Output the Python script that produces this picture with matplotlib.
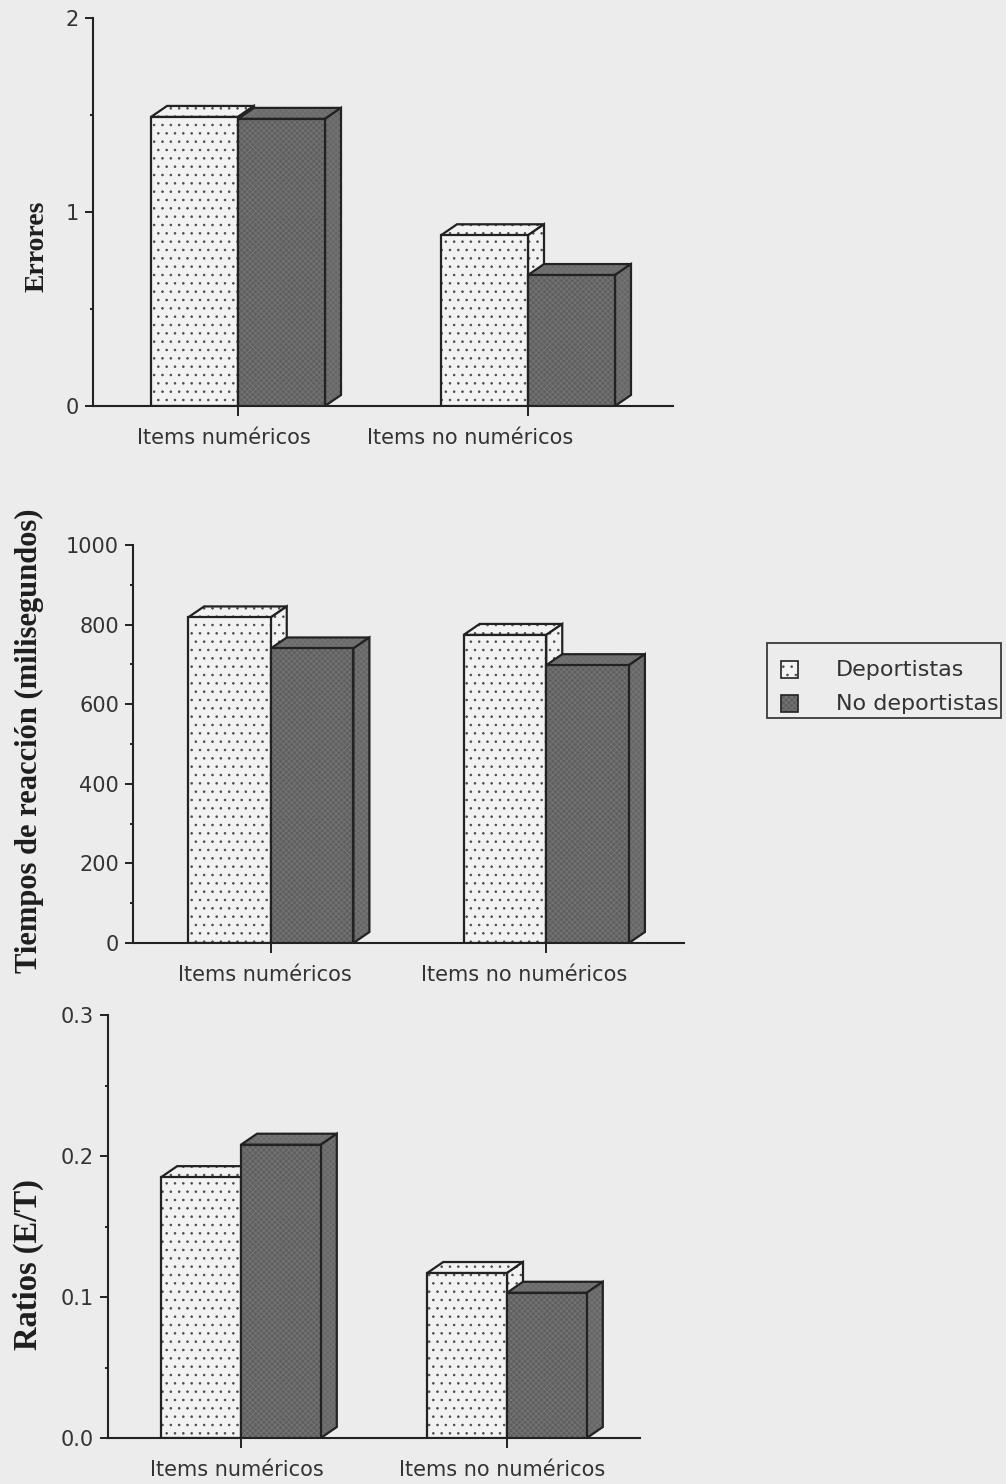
import numpy as np
import matplotlib
matplotlib.use('Agg')
import matplotlib.pyplot as plt
from matplotlib.patches import Polygon, Rectangle
from matplotlib.ticker import MultipleLocator

# data
categories = ['Items numéricos', 'Items no numéricos']
groups = ['Deportistas', 'No deportistas']

errores_dep = [1.49, 0.88]
errores_nodep = [1.48, 0.675]
tiempos_dep = [818, 774]
tiempos_nodep = [740, 698]
ratios_dep = [0.185, 0.117]
ratios_nodep = [0.208, 0.103]

# styling
BG = '#ececec'
EDGE = '#222222'
LIGHT = '#f2f2f2'
DOTS = '#4a4a4a'
DARK_FRONT = '#5f5f5f'
DARK_TOP = '#6a6a6a'
DARK_SIDE = '#666666'
DARK_GRAIN = '#767676'
DEPTH_PX = (16, 11)
W = 0.30
FIG_W, FIG_H = 1006, 1484

plt.rcParams['hatch.linewidth'] = 0.6

fig = plt.figure(figsize=(FIG_W / 100, FIG_H / 100), dpi=100)
fig.patch.set_facecolor(BG)


def fill_args(fc, hatch):
    # hatch colour follows edgecolor; linewidth 0 hides the edge itself
    if hatch == '..':
        return dict(facecolor=fc, edgecolor=DOTS, lw=0, hatch=hatch)
    return dict(facecolor=fc, edgecolor=DARK_GRAIN, lw=0, hatch='xxxxxx')


def face(ax, pts, fc, hatch, z):
    ax.add_patch(Polygon(pts, closed=True, zorder=z, **fill_args(fc, hatch)))
    ax.add_patch(Polygon(pts, closed=True, fill=False, edgecolor=EDGE, lw=1.6,
                         joinstyle='miter', zorder=z + 0.1))


def bar3d(ax, x0, h, fc_front, fc_top, fc_side, hatch, z):
    bb = ax.get_position()
    xl, yl = ax.get_xlim(), ax.get_ylim()
    dx = DEPTH_PX[0] * (xl[1] - xl[0]) / (bb.width * FIG_W)
    dy = DEPTH_PX[1] * (yl[1] - yl[0]) / (bb.height * FIG_H)
    x1 = x0 + W
    top = [(x0, h), (x1, h), (x1 + dx, h + dy), (x0 + dx, h + dy)]
    side = [(x1, 0), (x1, h), (x1 + dx, h + dy), (x1 + dx, dy)]
    face(ax, top, fc_top, hatch, z)
    face(ax, side, fc_side, hatch, z + 0.2)
    ax.bar([x0], [h], W, align='edge', zorder=z + 0.4, **fill_args(fc_front, hatch))
    ax.bar([x0], [h], W, align='edge', fill=False, edgecolor=EDGE, lw=1.6,
           joinstyle='miter', zorder=z + 0.5)


panels = [
    # pixel box (left, bottom, right, top), y range, ticks, tick format, label spots
    dict(px=(93, 406, 673, 18), ylim=2, major=1, minor=0.5, fmt='{:.0f}',
         dep=errores_dep, nodep=errores_nodep, lab=[-0.05, 0.80]),
    dict(px=(133, 943, 684, 545), ylim=1000, major=200, minor=100, fmt='{:.0f}',
         dep=tiempos_dep, nodep=tiempos_nodep, lab=[-0.02, 0.92]),
    dict(px=(108, 1438, 640, 1015), ylim=0.3, major=0.1, minor=0.05, fmt='{:.1f}',
         dep=ratios_dep, nodep=ratios_nodep, lab=[-0.015, 0.98]),
]

x = np.arange(len(categories))
for p in panels:
    l, b, r, t = p['px']
    ax = fig.add_axes([l / FIG_W, 1 - b / FIG_H, (r - l) / FIG_W, (b - t) / FIG_H])
    ax.set_facecolor('none')
    ax.set_xlim(-0.5, 1.5)
    ax.set_ylim(0, p['ylim'])
    for s in ['top', 'right']:
        ax.spines[s].set_visible(False)
    for s in ['left', 'bottom']:
        ax.spines[s].set_color(EDGE)
        ax.spines[s].set_linewidth(1.5)

    yt = np.arange(0, p['ylim'] + p['major'] / 2, p['major'])
    ax.set_yticks(yt, [p['fmt'].format(v) for v in yt])
    ax.yaxis.set_minor_locator(MultipleLocator(p['minor']))
    ax.tick_params(axis='y', which='major', length=6, width=1.4, color=EDGE,
                   labelsize=15, labelcolor='#333333', pad=4)
    ax.tick_params(axis='y', which='minor', length=2.5, width=1.4, color=EDGE)

    ax.set_xticks(x, ['', ''])
    ax.set_xticks(p['lab'], categories, minor=True)
    ax.tick_params(axis='x', which='major', length=7, width=1.4, color=EDGE)
    ax.tick_params(axis='x', which='minor', length=0, pad=16,
                   labelsize=15, labelcolor='#333333')

    for i in range(len(categories)):
        bar3d(ax, x[i] - W, p['dep'][i], LIGHT, LIGHT, LIGHT, '..', 2 + i * 2)
        bar3d(ax, x[i], p['nodep'][i], DARK_FRONT, DARK_TOP, DARK_SIDE, None, 3 + i * 2)

# axis titles
ylabels = [('Errores', 37, 246, 20), ('Tiempos de reacción (milisegundos)', 29, 741, 22),
           ('Ratios (E/T)', 28, 1265, 23.5)]
for txt, px, py, fs in ylabels:
    fig.text(px / FIG_W, 1 - py / FIG_H, txt, rotation=90, ha='center', va='center',
             family='Liberation Serif', fontweight='bold', fontsize=fs, color='#1e1e1e')

# legend drawn by hand
lx0, ly0, lx1, ly1 = 767, 643, 1001, 718
fig.add_artist(Rectangle((lx0 / FIG_W, 1 - ly1 / FIG_H), (lx1 - lx0) / FIG_W,
                         (ly1 - ly0) / FIG_H, transform=fig.transFigure,
                         fill=False, edgecolor='#3a3a3a', lw=1.3))
legend_rows = [(groups[0], LIGHT, '..', 670), (groups[1], DARK_FRONT, None, 704)]
for name, fc, hatch, cy in legend_rows:
    sq = 17
    corner = (781 / FIG_W, 1 - (cy + sq / 2) / FIG_H)
    fig.add_artist(Rectangle(corner, sq / FIG_W, sq / FIG_H, transform=fig.transFigure,
                             **fill_args(fc, hatch)))
    fig.add_artist(Rectangle(corner, sq / FIG_W, sq / FIG_H, transform=fig.transFigure,
                             fill=False, edgecolor=EDGE, lw=1.2))
    fig.text(836 / FIG_W, 1 - cy / FIG_H, name, ha='left', va='center',
             fontsize=16, color='#333333')

fig.savefig('out.png', dpi=100, facecolor=BG)
